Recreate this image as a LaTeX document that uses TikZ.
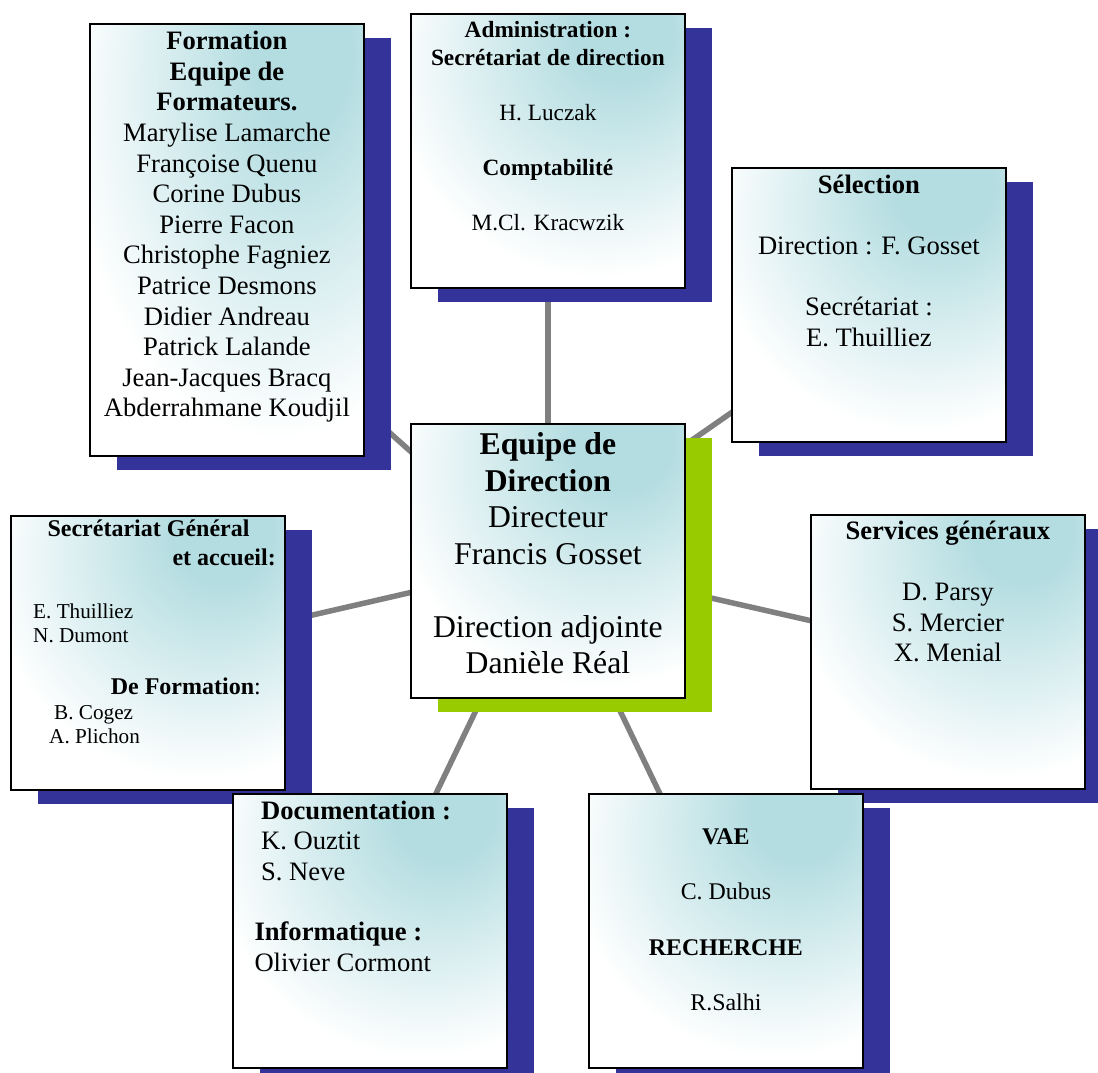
\documentclass[tikz,border=0pt]{standalone}
\usepackage{fontspec}
\setmainfont{Liberation Serif}
\usetikzlibrary{shadows,backgrounds}
\definecolor{boxcyan}{RGB}{180,221,225}
\definecolor{shadowblue}{RGB}{51,51,153}
\definecolor{shadowgreen}{RGB}{153,204,0}
\definecolor{linkgray}{RGB}{128,128,128}
\pgfdeclareradialshading{boxshade}{\pgfpoint{15bp}{24bp}}{color(0bp)=(boxcyan); color(9bp)=(boxcyan); color(38bp)=(white); color(100bp)=(white)}
\tikzset{
  basebox/.style={draw=black, line width=1.8pt, shade, shading=boxshade,
    minimum width=274pt, minimum height=274pt, inner sep=0pt, anchor=north west},
  bluebox/.style={basebox, general shadow={fill=shadowblue, shadow xshift=27pt, shadow yshift=-14pt}},
  greenbox/.style={basebox, general shadow={fill=shadowgreen, shadow xshift=27pt, shadow yshift=-14pt}},
  link/.style={draw=linkgray, line width=5.5pt},
  txtmid/.style={font=\fontsize{26.6}{30.6}\selectfont, inner sep=0pt, align=center, anchor=north},
  txtsmall/.style={font=\fontsize{23.3}{27.5}\selectfont, inner sep=0pt, align=center, anchor=north},
  txtvae/.style={font=\fontsize{23.9}{27.7}\selectfont, inner sep=0pt, align=center, anchor=north},
  txtbig/.style={font=\fontsize{31.7}{36.5}\selectfont, inner sep=0pt, align=center, anchor=north},
  txtdoc/.style={font=\fontsize{26.6}{30.3}\selectfont, inner sep=0pt, align=left, anchor=north west},
  sgtitle/.style={font=\fontsize{24}{27.6}\selectfont\bfseries, inner sep=0pt},
  sgname/.style={font=\fontsize{21.2}{24.4}\selectfont, inner sep=0pt, anchor=base west},
}
\begin{document}
\begin{tikzpicture}[x=1pt, y=-1pt]
\useasboundingbox (0,0) rectangle (1098,1073);
\clip (0,0) rectangle (1098,1073);

% boxes
\node[bluebox, minimum height=432pt] (form) at (89,23) {};
\node[bluebox] (admin) at (410,13) {};
\node[bluebox] (sel) at (731,167) {};
\node[bluebox] (secg) at (10,515) {};
\node[bluebox] (serv) at (810,514) {};
\node[bluebox] (doc) at (232,793) {};
\node[bluebox] (vae) at (588,793) {};
\node[greenbox] (dir) at (410,423) {};

% texts
\node[txtmid] (formtxt) at ([shift={(0,5.1)}]form.north)
  {\strut\textbf{Formation}\\ \textbf{Equipe de}\\ \textbf{Formateurs.}\\
   Marylise Lamarche\\ Françoise Quenu\\ Corine Dubus\\ Pierre Facon\\
   Christophe Fagniez\\ Patrice Desmons\\ Didier Andreau\\ Patrick Lalande\\
   Jean-Jacques Bracq\\ Abderrahmane Koudjil};

\node[txtsmall] (admintxt) at ([shift={(0,5.05)}]admin.north)
  {\strut\textbf{Administration :}\\ \textbf{Secrétariat de direction}\\[27.5pt]
   H. Luczak\\[27.5pt] \textbf{Comptabilité}\\[27.5pt] M.Cl. Kracwzik};

\node[txtmid] (seltxt) at ([shift={(0,4.9)}]sel.north)
  {\strut\textbf{Sélection}\\[30.6pt] Direction : F. Gosset\\[30.6pt]
   Secrétariat :\\ E. Thuilliez};

\node[txtbig] (dirtxt) at ([shift={(0,5.75)}]dir.north)
  {\strut\textbf{Equipe de}\\ \textbf{Direction}\\ Directeur\\ Francis Gosset\\[36.5pt]
   Direction adjointe\\ Danièle Réal};

\node[txtmid] (servtxt) at ([shift={(0,3.9)}]serv.north)
  {\strut\textbf{Services généraux}\\[30.6pt] D. Parsy\\ S. Mercier\\ X. Menial};

\node[txtdoc] (doctxt) at ([shift={(22.3,5.1)}]doc.north west)
  {\strut\hspace*{6.65pt}\textbf{Documentation :}\\ \hspace*{6.65pt}K. Ouztit\\
   \hspace*{6.65pt}S. Neve\\[30.3pt] \textbf{Informatique :}\\ Olivier Cormont};

\node[txtvae] (vaetxt) at ([shift={(0,31.6)}]vae.north)
  {\strut\textbf{VAE}\\[27.7pt] C. Dubus\\[27.7pt] \textbf{RECHERCHE}\\[27.7pt] R.Salhi};

\node[sgtitle, anchor=base] (sg1) at (148.5,536.7) {Secrétariat Général};
\node[sgtitle, anchor=base east] (sg2) at (276,565) {et accueil:};
\node[sgname] (sg3) at (33,618.3) {E. Thuilliez};
\node[sgname] (sg4) at (33,642.7) {N. Dumont};
\node[sgtitle, anchor=base east] (sg5) at (261,694.3) {De Formation\mdseries:};
\node[sgname] (sg6) at (54,719.3) {B. Cogez};
\node[sgname] (sg7) at (49,743.3) {A. Plichon};

% connectors behind
\begin{scope}[on background layer]
\fill[white] (0,0) rectangle (1098,1073);
\draw[link] (dir.center) -- (admin.center);
\draw[link] ([shift={(0,13.5)}]dir.center) -- ([shift={(0,47)}]form.center);
\draw[link] ([shift={(0,-20.5)}]dir.center) -- ([shift={(0,12)}]sel.center);
\draw[link] (dir.center) -- (secg.center);
\draw[link] (dir.center) -- (serv.center);
\draw[link] (dir.center) -- (doc.center);
\draw[link] (dir.center) -- (vae.center);
\end{scope}
\end{tikzpicture}
\end{document}
